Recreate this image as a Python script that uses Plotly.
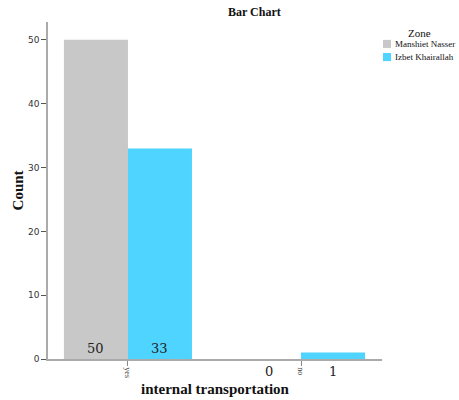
import plotly.graph_objects as go

categories = ["yes", "no"]
zones = ["Manshiet Nasser", "Izbet Khairallah"]
manshiet = [50, 0]
izbet = [33, 1]
colors = ["#c8c8c8", "#4fd4ff"]

series = [manshiet, izbet]
xs = list(range(len(categories)))
bargap = 0.26
group_w = 1 - bargap
bar_w = group_w / len(series)

fig = go.Figure()
for k, (name, vals) in enumerate(zip(zones, series)):
    fig.add_trace(go.Bar(
        x=xs, y=vals, name=name, marker_color=colors[k],
        marker_line_width=0, showlegend=False, hoverinfo="skip",
    ))

annotations = []
shapes = []
ymax = max(max(s) for s in series)
for k, vals in enumerate(series):
    off = -group_w / 2 + bar_w * (k + 0.5)
    for i, v in enumerate(vals):
        big = v > ymax * 0.1
        annotations.append(dict(
            x=xs[i] + off, y=0, xref="x", yref="y",
            text=str(v), showarrow=False,
            yanchor="bottom" if big else "top",
            yshift=1 if big else -3,
            font=dict(family="DejaVu Serif", size=13, color="#222"),
        ))

# axis titles
annotations.append(dict(
    x=-0.09, y=0.5, xref="paper", yref="paper", text="<b>Count</b>",
    showarrow=False, textangle=-90, xanchor="center", yanchor="middle",
    font=dict(family="Liberation Serif", size=15, color="#111")))
annotations.append(dict(
    x=0.5, y=-0.089, xref="paper", yref="paper", text="<b>internal transportation</b>",
    showarrow=False, yanchor="middle",
    font=dict(family="Liberation Serif", size=15, color="#111")))
# title
annotations.append(dict(
    x=0.617, y=1.0, xref="paper", yref="paper", text="<b>Bar Chart</b>",
    showarrow=False, yanchor="middle", yshift=10,
    font=dict(family="Liberation Serif", size=12, color="#111")))

# legend (manual)
annotations.append(dict(
    x=1.112, y=0.967, xref="paper", yref="paper", text="Zone",
    showarrow=False, xanchor="center", yanchor="middle",
    font=dict(family="Liberation Serif", size=11, color="#111")))
for k, name in enumerate(zones):
    yc = 0.935 - k * 0.039
    shapes.append(dict(type="rect", xref="paper", yref="paper",
                       x0=1.003, x1=1.027, y0=yc - 0.012, y1=yc + 0.012,
                       fillcolor=colors[k], line=dict(width=0)))
    annotations.append(dict(
        x=1.034, y=yc, xref="paper", yref="paper", text=name,
        showarrow=False, xanchor="left", yanchor="middle",
        font=dict(family="Liberation Serif", size=9, color="#111")))

fig.update_layout(
    width=459, height=400,
    margin=dict(l=48, r=77, t=22, b=41),
    paper_bgcolor="white", plot_bgcolor="white",
    barmode="group", bargap=bargap, bargroupgap=0,
    annotations=annotations, shapes=shapes,
    showlegend=False, hovermode=False,
)
fig.update_xaxes(
    range=[-0.462, 1.468], tickmode="array", tickvals=xs, ticktext=categories,
    tickangle=90, ticks="outside", ticklen=5, tickcolor="#888",
    showline=True, linecolor="#aaa", linewidth=1.5, showgrid=False, zeroline=False,
    tickfont=dict(family="Liberation Serif", size=8, color="#333"),
    automargin=False, fixedrange=True,
)
fig.update_yaxes(
    range=[0, 52.8], tickvals=[0, 10, 20, 30, 40, 50],
    ticks="outside", ticklen=5, tickcolor="#555",
    showline=True, linecolor="#aaa", linewidth=1.5, showgrid=False, zeroline=False,
    tickfont=dict(family="DejaVu Sans", size=9, color="#333"),
    automargin=False, fixedrange=True,
)
fig.write_html("out.html", config={"displayModeBar": False},
               post_script="document.body.style.margin='0';")
